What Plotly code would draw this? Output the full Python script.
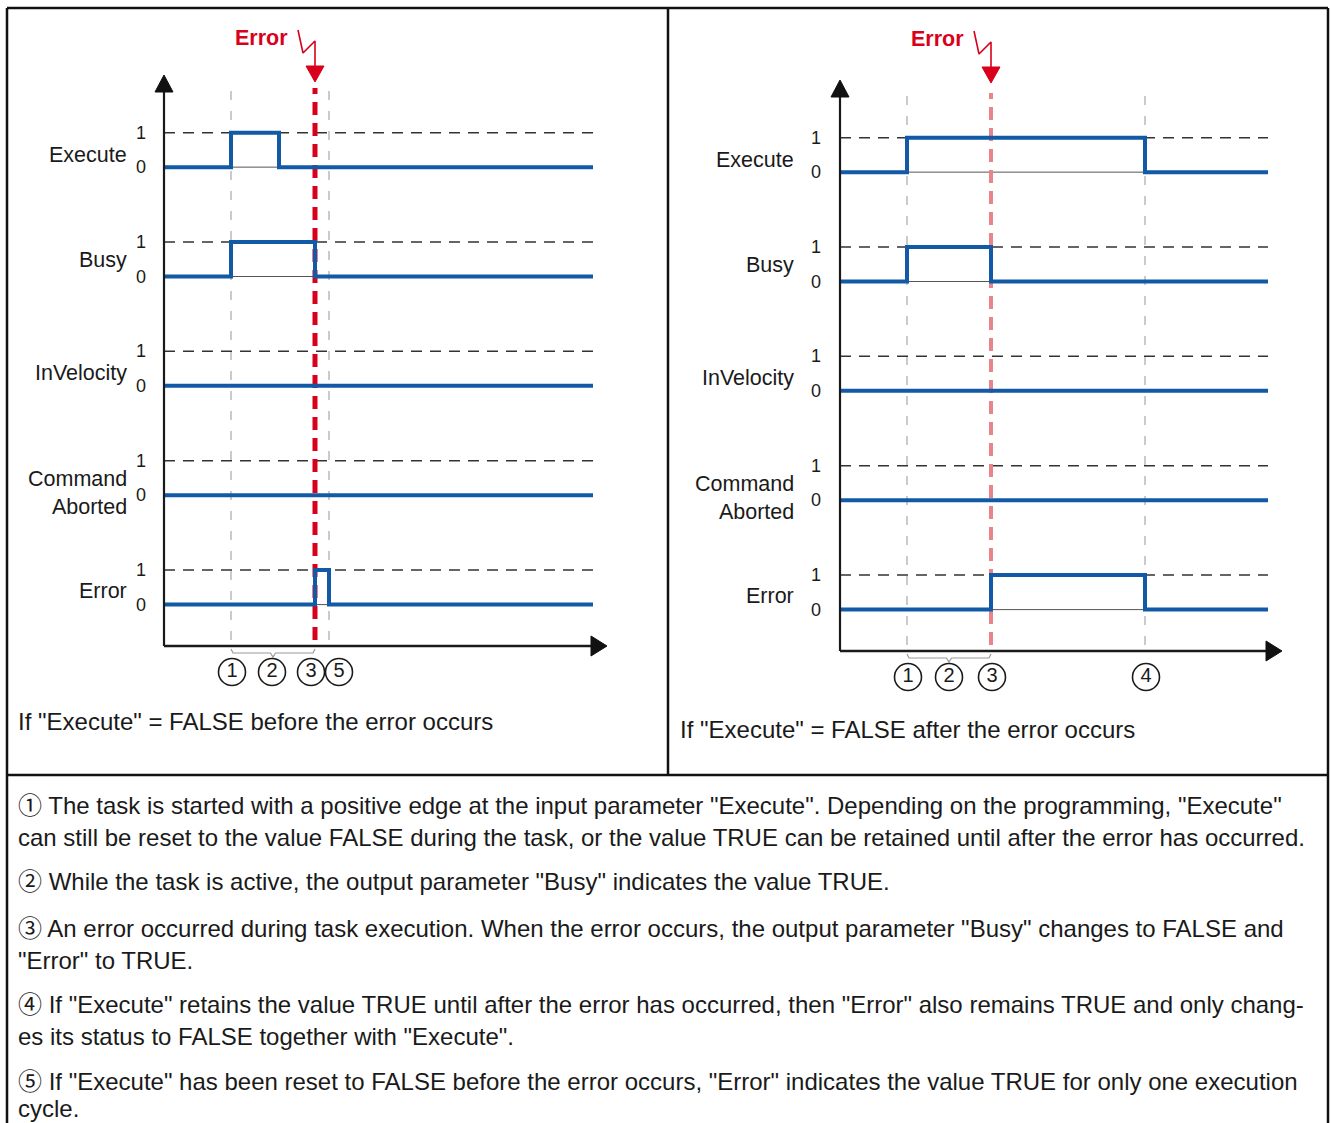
import plotly.graph_objects as go

W, H = 1331, 1123
FONT = "Liberation Sans, Arial, sans-serif"
NOTE_FONT = "Liberation Sans, Noto Sans CJK JP, Arial, sans-serif"

# ---------------- data ----------------
signal_names = ["Execute", "Busy", "InVelocity", "Command<br>Aborted", "Error"]
tick_labels = ["0", "1"]

# Left: "Execute" = FALSE before the error occurs (time units)
left_t = [0.0, 6.7, 11.5, 15.1, 16.5, 42.9]
left_execute = [0, 1, 0, 0, 0, 0]
left_busy = [0, 1, 1, 0, 0, 0]
left_invelocity = [0, 0, 0, 0, 0, 0]
left_cmdaborted = [0, 0, 0, 0, 0, 0]
left_error = [0, 0, 0, 1, 0, 0]
left_error_time = 15.1
left_guides = [6.7, 16.5]
left_marks = ["1", "2", "3", "5"]
left_mark_t = [6.8, 10.8, 14.7, 17.5]
left_brace = [6.7, 15.1]

# Right: "Execute" = FALSE after the error occurs
right_t = [0.0, 6.7, 15.1, 30.5, 42.8]
right_execute = [0, 1, 1, 0, 0]
right_busy = [0, 1, 0, 0, 0]
right_invelocity = [0, 0, 0, 0, 0]
right_cmdaborted = [0, 0, 0, 0, 0]
right_error = [0, 0, 1, 0, 0]
right_error_time = 15.1
right_guides = [6.7, 30.5]
right_marks = ["1", "2", "3", "4"]
right_mark_t = [6.8, 10.9, 15.2, 30.6]
right_brace = [6.7, 15.1]

captions = ['If "Execute" = FALSE before the error occurs',
            'If "Execute" = FALSE after the error occurs']

notes = [
    '\u2460 The task is started with a positive edge at the input parameter "Execute". Depending on the programming, "Execute"',
    'can still be reset to the value FALSE during the task, or the value TRUE can be retained until after the error has occurred.',
    '\u2461 While the task is active, the output parameter "Busy" indicates the value TRUE.',
    '\u2462 An error occurred during task execution. When the error occurs, the output parameter "Busy" changes to FALSE and',
    '"Error" to TRUE.',
    '\u2463 If "Execute" retains the value TRUE until after the error has occurred, then "Error" also remains TRUE and only chang-',
    'es its status to FALSE together with "Execute".',
    '\u2464 If "Execute" has been reset to FALSE before the error occurs, "Error" indicates the value TRUE for only one execution',
    'cycle.',
]
note_y_px = [805, 837, 881, 928, 960, 1004, 1036, 1081, 1108]

# ---------------- layout constants ----------------
SX = 10.0     # px per time unit
SY = 34.5     # px per signal unit
PANEL_TOP, PANEL_BOTTOM = 8, 775
BASE0, BASE_STEP = 1.2, 3.17
LABEL_OFFS = [0.35, 0.49, 0.38, 0.06, 0.38]

BLUE = "#1259a6"
RED = "#d9001b"

fig = go.Figure()
annotations = []


def add_panel(xa, ya, ox, oy, xd, t, series, err_t, guides, mk_lbl, mk_t, brace,
              caption, cap_px, label_px, tick_px, red_col, red_w, guide_top_px, x_tip_px, y_tip_px,
              end_t, bolt_top):
    tx = lambda px: (px - ox) / SX
    vy = lambda py: (oy - py) / SY
    kw = dict(xaxis=xa, yaxis=ya, showlegend=False, hoverinfo="skip")
    bases = [BASE0 + BASE_STEP * (4 - k) for k in range(5)]

    # guides (grey dashed verticals)
    for g in guides:
        fig.add_trace(go.Scatter(x=[g, g], y=[vy(640 + oy - 646), vy(guide_top_px)], mode="lines",
                                 line=dict(color="#a8a8a8", width=1.2, dash="9px,11px"), **kw))
    # level lines
    for k, b in enumerate(bases):
        fig.add_trace(go.Scatter(x=[0, end_t], y=[b, b], mode="lines",
                                 line=dict(color="#555555", width=1), **kw))
        fig.add_trace(go.Scatter(x=[0, end_t], y=[b + 1, b + 1], mode="lines",
                                 line=dict(color="#333333", width=1.5, dash="11px,8px"), **kw))
    # red error line
    fig.add_trace(go.Scatter(x=[err_t, err_t], y=[vy(640 + oy - 646), vy(guide_top_px)], mode="lines",
                             line=dict(color=red_col, width=red_w, dash="13px,8px"), **kw))
    # signals
    for k, (b, s) in enumerate(zip(bases, series)):
        fig.add_trace(go.Scatter(x=t, y=[b + v for v in s], mode="lines", line_shape="hv",
                                 line=dict(color=BLUE, width=4), **kw))
        annotations.append(dict(x=tx(label_px), y=b + LABEL_OFFS[k], xref=xa, yref=ya,
                                text=signal_names[k], showarrow=False, xanchor="right", yanchor="middle",
                                align="right", font=dict(family=FONT, size=21.5, color="#1a1a1a")))
        for lv, tl in enumerate(tick_labels):
            annotations.append(dict(x=tx(tick_px), y=b + lv, xref=xa, yref=ya, text=tl, showarrow=False,
                                    xanchor="center", yanchor="middle",
                                    font=dict(family=FONT, size=18, color="#1a1a1a")))
    # axes
    fig.add_trace(go.Scatter(x=[0, 0], y=[0, vy(y_tip_px + 14)], mode="lines",
                             line=dict(color="#1a1a1a", width=2.2), **kw))
    fig.add_trace(go.Scatter(x=[tx(ox - 9), tx(ox + 9), 0, tx(ox - 9)],
                             y=[vy(y_tip_px + 17), vy(y_tip_px + 17), vy(y_tip_px), vy(y_tip_px + 17)],
                             mode="lines", fill="toself", fillcolor="#111111",
                             line=dict(color="#111111", width=1), **kw))
    fig.add_trace(go.Scatter(x=[0, tx(x_tip_px - 12)], y=[0, 0], mode="lines",
                             line=dict(color="#1a1a1a", width=2.5), **kw))
    fig.add_trace(go.Scatter(x=[tx(x_tip_px - 16), tx(x_tip_px - 16), tx(x_tip_px), tx(x_tip_px - 16)],
                             y=[vy(oy - 10), vy(oy + 10), 0, vy(oy - 10)],
                             mode="lines", fill="toself", fillcolor="#111111",
                             line=dict(color="#111111", width=1), **kw))
    # brace
    b0, b1 = brace
    bm = (b0 + b1) / 2
    by = oy + 3
    fig.add_trace(go.Scatter(x=[b0, b0 + 0.2, bm - 0.25, bm, bm + 0.25, b1 - 0.2, b1],
                             y=[vy(by), vy(by + 4), vy(by + 4), vy(by + 8), vy(by + 4), vy(by + 4), vy(by)],
                             mode="lines", line=dict(color="#9a9a9a", width=1.2), **kw))
    # circled numbers
    fig.add_trace(go.Scatter(x=mk_t, y=[vy(oy + 26)] * len(mk_t), mode="markers+text", text=mk_lbl,
                             textposition="middle center",
                             textfont=dict(family=FONT, size=20, color="#1a1a1a"),
                             marker=dict(symbol="circle-open", size=27, color="#1a1a1a",
                                         line=dict(width=1.6, color="#1a1a1a")), **kw))
    # error lightning + arrow
    ex = ox + err_t * SX
    top = bolt_top
    fig.add_trace(go.Scatter(x=[tx(ex - 17), tx(ex - 12), tx(ex), tx(ex)],
                             y=[vy(top), vy(top + 23), vy(top + 11), vy(top + 37)],
                             mode="lines", line=dict(color=RED, width=1.6), **kw))
    fig.add_trace(go.Scatter(x=[tx(ex - 9), tx(ex + 9), tx(ex), tx(ex - 9)],
                             y=[vy(top + 36), vy(top + 36), vy(top + 52), vy(top + 36)],
                             mode="lines", fill="toself", fillcolor=RED,
                             line=dict(color=RED, width=1), **kw))
    annotations.append(dict(x=tx(ex - 25), y=vy(top + 8), xref=xa, yref=ya, text="<b>Error</b>",
                            showarrow=False, xanchor="right", yanchor="middle",
                            font=dict(family=FONT, size=21.5, color=RED)))
    # caption
    annotations.append(dict(x=tx(cap_px[0]), y=vy(cap_px[1]), xref=xa, yref=ya, text=caption,
                            showarrow=False, xanchor="left", yanchor="middle",
                            font=dict(family=FONT, size=24, color="#1a1a1a")))
    return [(xd[0] - ox) / SX, (xd[1] - ox) / SX], [vy(PANEL_BOTTOM), vy(PANEL_TOP)]


lx, ly = add_panel("x", "y", 164, 646, (8, 668), left_t,
                   [left_execute, left_busy, left_invelocity, left_cmdaborted, left_error],
                   left_error_time, left_guides, left_marks, left_mark_t, left_brace,
                   captions[0], (16, 721), 129, 141, RED, 5, 88, 607, 75, 42.9, 30)
rx, ry = add_panel("x2", "y2", 840, 651, (668, 1329), right_t,
                   [right_execute, right_busy, right_invelocity, right_cmdaborted, right_error],
                   right_error_time, right_guides, right_marks, right_mark_t, right_brace,
                   captions[1], (678, 729), 796, 816, "#e9848b", 4, 93, 1282, 80, 42.8, 31)

for txt, py in zip(notes, note_y_px):
    annotations.append(dict(x=16 / W, y=1 - py / H, xref="paper", yref="paper", text=txt,
                            showarrow=False, xanchor="left", yanchor="middle",
                            font=dict(family=NOTE_FONT, size=24, color="#1a1a1a")))

ydom = [1 - PANEL_BOTTOM / H, 1 - PANEL_TOP / H]
ax_common = dict(visible=False, fixedrange=True)
fig.update_layout(
    width=W, height=H, margin=dict(l=0, r=0, t=0, b=0),
    paper_bgcolor="white", plot_bgcolor="rgba(0,0,0,0)",
    xaxis=dict(domain=[8 / W, 668 / W], range=lx, anchor="y", **ax_common),
    yaxis=dict(domain=ydom, range=ly, anchor="x", **ax_common),
    xaxis2=dict(domain=[668 / W, 1329 / W], range=rx, anchor="y2", **ax_common),
    yaxis2=dict(domain=ydom, range=ry, anchor="x2", **ax_common),
    annotations=annotations,
    shapes=[
        dict(type="line", xref="paper", yref="paper", x0=7 / W, x1=7 / W, y0=1 - 8 / H, y1=-0.01,
             line=dict(color="#111", width=2.5)),
        dict(type="line", xref="paper", yref="paper", x0=1328 / W, x1=1328 / W, y0=1 - 8 / H, y1=-0.01,
             line=dict(color="#111", width=2.5)),
        dict(type="line", xref="paper", yref="paper", x0=7 / W, x1=1328 / W, y0=1 - 8 / H, y1=1 - 8 / H,
             line=dict(color="#111", width=2.5)),
        dict(type="line", xref="paper", yref="paper", x0=7 / W, x1=1328 / W, y0=1 - 775 / H, y1=1 - 775 / H,
             line=dict(color="#111", width=2.5)),
        dict(type="line", xref="paper", yref="paper", x0=668 / W, x1=668 / W, y0=1 - 8 / H, y1=1 - 775 / H,
             line=dict(color="#111", width=2.5)),
    ],
)

fig.write_html("out.html", config={"displayModeBar": False, "staticPlot": True},
               post_script="document.body.style.margin='0';document.documentElement.style.overflow='hidden';document.body.style.overflow='hidden';")
